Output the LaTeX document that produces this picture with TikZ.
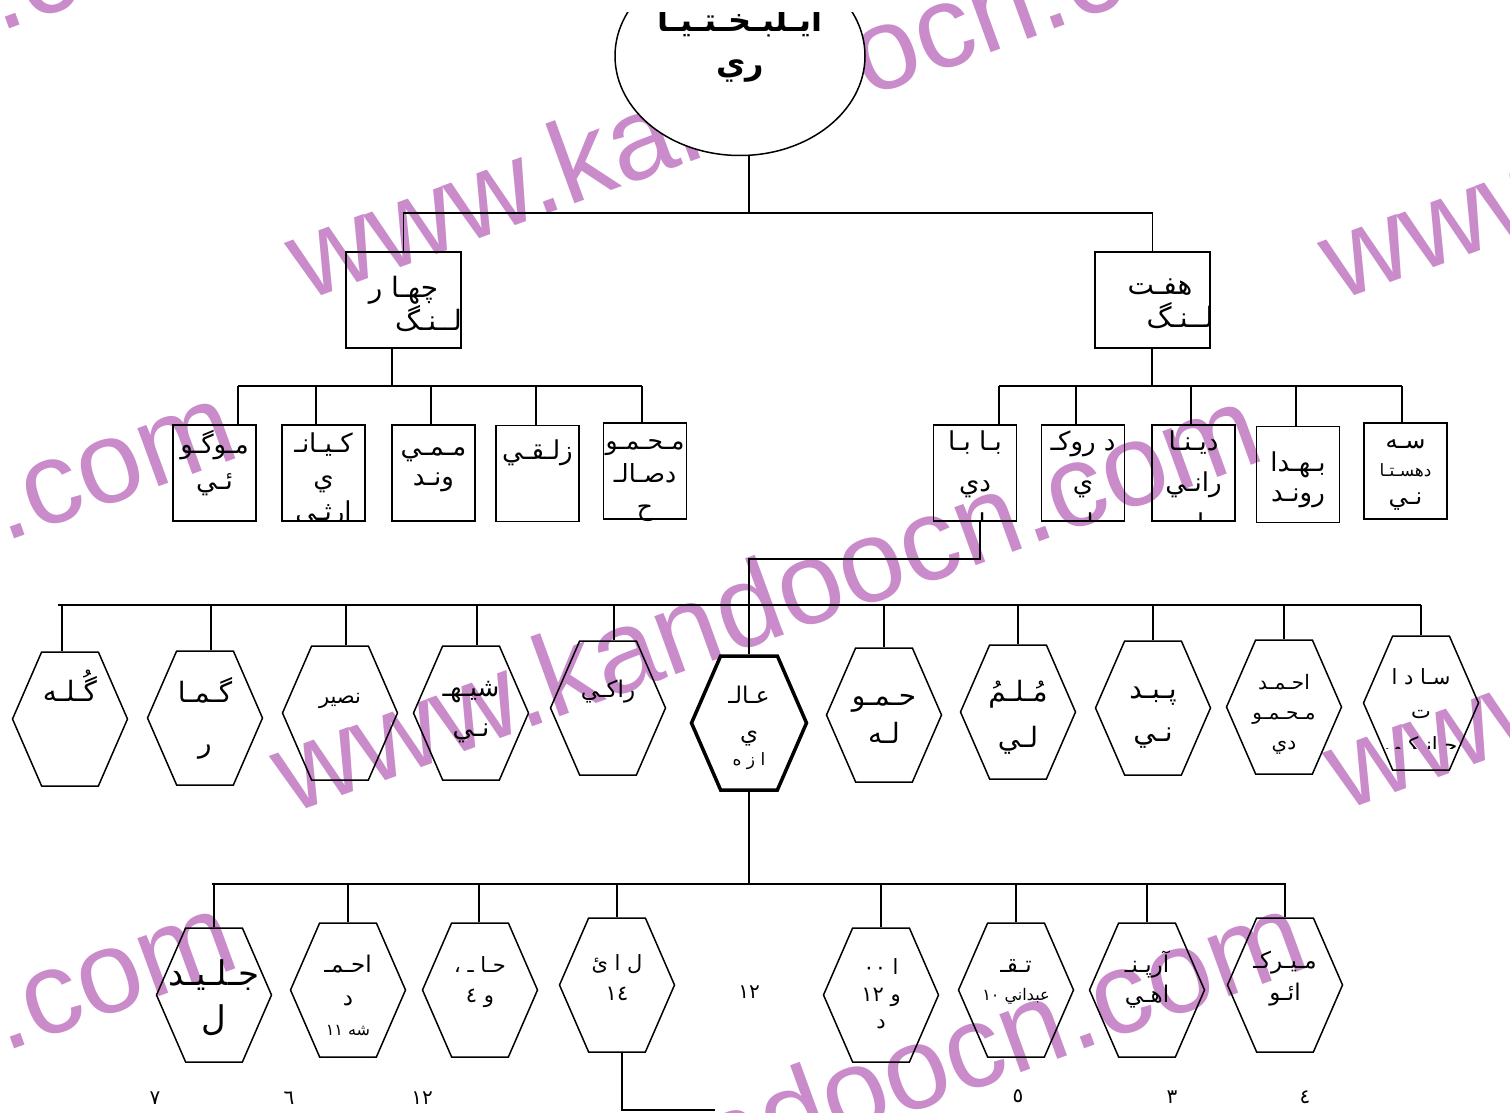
\documentclass[tikz,border=0pt]{standalone}
\usepackage{fontspec}
\usepackage{tikz}
\usetikzlibrary{shapes.geometric, shapes.symbols}

\newfontfamily\arabicfont[Script=Arabic]{DejaVu Sans}
\newfontfamily\wmfont{Liberation Sans}
\TeXXeTstate=1
\definecolor{filigrane}{RGB}{201,139,201}
\newcommand\txtfa[1]{\makebox[0pt]{\arabicfont\beginR#1\endR}}
\newcommand\numfa[1]{{\arabicfont #1}}

\begin{document}
\begin{tikzpicture}[
  x=1pt, y=-1pt,
  trait/.style={draw=black, line width=1.5pt},
  bas/.style={text height=#1, text depth=0pt},
  haut/.style={text height=0pt, text depth=#1},
  racine/.style={
    ellipse, draw=black, line width=1.5pt, fill=white,
    minimum width=250pt, minimum height=199pt, inner sep=0pt
  },
  titre/.style={align=center, inner sep=0pt, font=\fontsize{32}{43}\selectfont\bfseries},
  boite/.style={
    rectangle, draw=black, line width=1.5pt, inner sep=0pt,
    minimum width=83pt, minimum height=96pt,
    align=center, font=\fontsize{26}{36}\selectfont
  },
  grandeboite/.style={boite, minimum width=115pt, font=\fontsize{28}{30}\selectfont},
  texte/.style={align=center, inner sep=0pt, font=\fontsize{26}{41}\selectfont},
  hexa/.style={
    signal, signal to=east and west, signal pointer angle=133,
    draw=black, line width=1.5pt, inner sep=0pt,
    minimum width=115pt, minimum height=134pt,
    align=center, font=\fontsize{28}{47}\selectfont
  },
  hexagras/.style={hexa, line width=3.5pt},
  chiffre/.style={inner sep=0pt, font=\fontsize{20}{24}\selectfont},
  marque/.style={
    text=filigrane, anchor=base west, rotate=20, inner sep=0pt,
    font=\wmfont\fontsize{117}{120}\selectfont
  }
]
\useasboundingbox (0,0) rectangle (1510,1113);

% ----- filigrane -----
\begin{scope}
  \clip (0,0) rectangle (1510,1113);
  \foreach \px/\py [count=\i] in {305/302, 1338/302, -740/302, 290/815, 1343/812, -735/812, 335/1322, -735/1322}
    \node[marque] (marque\i) at (\px,\py) {www.kandoocn.com};
\end{scope}

% ----- 1. Ilé Bakhtiari -----
\begin{scope}
  \clip (0,13) rectangle (1510,1113);
  \node[racine] (racine) at (740,56) {};
  \node[titre, bas=38pt] (titre) at (740,56) {\txtfa{ايـلبـخـتـيـا}\\\txtfa{ري}};
\end{scope}
\coordinate (nb1) at (749,213);
\draw[trait] (nb1 |- racine.south) -- (nb1);

% ----- 2. Chahar lang / Haft lang -----
\node[grandeboite, bas=60pt] (chahar) at (403.5,300)
  {\txtfa{چهـا ر}\\\hspace*{50pt}\txtfa{لــنـگ}};
\node[grandeboite, bas=54pt, font=\fontsize{28}{33}\selectfont] (haft) at (1152.5,300)
  {\hspace*{15pt}\txtfa{هفـت}\\\hspace*{55pt}\txtfa{لــنـگ}};
\draw[trait] (chahar.north) |- (nb1) -| (haft.north);

% ----- 3. Tayefeha -----
\node[boite, bas=32pt] (mogoi) at (214.5,473) {\txtfa{مـوگـو}\\\txtfa{ئـي}};
\node[boite] (kiani) at (323.5,473) {};
\node[boite, bas=24pt, font=\fontsize{26}{30}\selectfont] (mamivand) at (433.5,473)
  {\txtfa{مـمـي}\\\txtfa{ونـد}};
\node[boite, haut=28pt] (zalaghi) at (537.5,473.5) {\txtfa{زلـقـي}};
\node[boite, bas=88pt, font=\fontsize{25}{33}\selectfont] (mahmud) at (645,471)
  {\txtfa{مـحـمـو}\\\txtfa{دصـالـ}\\\txtfa{ح}};

\node[boite] (babadi)   at (975,473) {};
\node[boite] (dorooki)  at (1083,473) {};
\node[boite] (dinarani) at (1193.5,473) {};
\node[boite, bas=53pt, font=\fontsize{26}{30}\selectfont] (bahdarvand) at (1298,474.5)
  {\txtfa{بـهـدا}\\\txtfa{رونـد}};
\node[boite, bas=66pt, font=\fontsize{24}{28}\selectfont] (sedastani) at (1405.5,471)
  {\txtfa{سـه}\\{\fontsize{17}{20}\selectfont\txtfa{دهسـتـا}}\\\txtfa{نـي}};

\begin{scope}
  \clip (kiani.south west) rectangle (kiani.north east);
  \node[texte, bas=94pt, font=\fontsize{26}{34}\selectfont] (kianitxt) at (323.5,473)
    {\txtfa{كـيـانـ}\\\txtfa{ي}\\\txtfa{ارثـي}};
\end{scope}
\begin{scope}
  \clip (babadi.south west) rectangle (babadi.north east);
  \node[texte, bas=118pt] (babaditxt) at (975,473) {\txtfa{بـا بـا}\\\txtfa{دي}\\\txtfa{بـلـي}};
\end{scope}
\begin{scope}
  \clip (dorooki.south west) rectangle (dorooki.north east);
  \node[texte, bas=118pt] (doorokitxt) at (1083,473) {\txtfa{د روكـ}\\\txtfa{ي}\\\txtfa{بـلـي}};
\end{scope}
\begin{scope}
  \clip (dinarani.south west) rectangle (dinarani.north east);
  \node[texte, bas=118pt] (dinaranitxt) at (1193.5,473) {\txtfa{ديـنـا}\\\txtfa{رانـي}\\\txtfa{بـلـي}};
\end{scope}

\coordinate (ng) at (392,386);
\coordinate (nd) at (1152,386);
\draw[trait] (ng |- chahar.south) -- (ng);
\draw[trait] (nd |- haft.south) -- (nd);
\draw[trait] (238,386) -- (642,386);
\draw[trait] (999,386) -- (1402,386);
\foreach \x/\n in {238/mogoi, 316/kiani, 431/mamivand, 536/zalaghi, 642/mahmud,
                   999/babadi, 1076/dorooki, 1191/dinarani, 1296/bahdarvand, 1402/sedastani}
  \draw[trait] (\x,386) -- (\x,386 |- \n.north);

% ----- 4. Tirehaye Babadi -----
\node[hexa, haut=36pt] (gole) at (70,719) {\txtfa{گُـلـه}};
\node[hexa, bas=68pt, font=\fontsize{28}{50}\selectfont] (gamar) at (205,718) {\txtfa{گـمـا}\\\txtfa{ر}};
\node[hexa, haut=20pt, font=\fontsize{21}{34}\selectfont] (nasir) at (340,713) {\txtfa{نصير}};
\node[hexa, bas=46pt, font=\fontsize{26}{40}\selectfont] (shihani) at (471,713)
  {\txtfa{شيـهـ}\\\txtfa{نـي}};
\node[hexa, haut=22pt, font=\fontsize{23}{36}\selectfont] (raki) at (608,708) {\txtfa{راكـي}};
\node[hexagras, bas=84pt, font=\fontsize{23}{37}\selectfont] (ali) at (749,723)
  {\txtfa{عـالـ}\\\txtfa{ي}\\[-12pt]{\fontsize{17}{20}\selectfont\txtfa{ا ز ه}}};
\node[hexa, bas=56pt, font=\fontsize{28}{38}\selectfont] (hamule) at (884,715)
  {\txtfa{حـمـو}\\\txtfa{لـه}};
\node[hexa, bas=70pt, font=\fontsize{28}{46}\selectfont] (mulmuli) at (1018,712)
  {\txtfa{مُـلـمُ}\\\txtfa{لـي}};
\node[hexa, bas=66pt, font=\fontsize{28}{43}\selectfont] (pabdani) at (1153,708)
  {\txtfa{پـبـد}\\\txtfa{نـي}};
\node[hexa, bas=84pt, font=\fontsize{20}{30}\selectfont] (ahmadmahmudi) at (1284,707)
  {\txtfa{احـمـد}\\\txtfa{مـحـمـو}\\\txtfa{دي}};
\node[hexa] (sadat) at (1421,703) {};
\begin{scope}
  \clip (1360,600) rectangle (1485,748);
  \node[texte, bas=98pt, font=\fontsize{21}{34}\selectfont] (sadattxt) at (1421,703)
    {\txtfa{سـا د ا}\\\txtfa{ت}\\\txtfa{جـانـكـي}};
\end{scope}

\coordinate (coude) at (749,559);
\draw[trait] (980,0 |- babadi.south) |- (coude) -- (ali.north);
\draw[trait] (58,605) -- (1421,605);
\foreach \x/\n in {62/gole, 211/gamar, 346/nasir, 477/shihani, 614/raki,
                   884/hamule, 1018/mulmuli, 1153/pabdani, 1284/ahmadmahmudi, 1421/sadat}
  \draw[trait] (\x,605) -- (\x,605 |- \n.north);

% ----- 5. Tirehaye Ali -----
\node[hexa, bas=70pt, font=\fontsize{34}{45}\selectfont] (jalil) at (214,995)
  {\txtfa{جـلـيـد}\\\txtfa{ل}};
\node[hexa, bas=90pt, font=\fontsize{23}{33}\selectfont] (ahmadshahi) at (348,990)
  {\txtfa{احـمـ}\\\txtfa{د}\\[-3pt]{\fontsize{16}{18}\selectfont\txtfa{شه \beginL١١\endL}}};
\node[hexa, bas=24pt, font=\fontsize{21}{30}\selectfont] (hajivand) at (480,990)
  {\txtfa{حـا ـ ،}\\\txtfa{و \beginL٤\endL}};
\node[hexa, bas=30pt, font=\fontsize{21}{30}\selectfont] (lai) at (617,985)
  {\txtfa{ل ا ئ}\\\numfa{١٤}};
\node[chiffre] (douze) at (749,992) {\numfa{١٢}};
\node[hexa, bas=66pt, font=\fontsize{21}{27}\selectfont] (oraz) at (881,995)
  {\txtfa{ا \beginL٠٠\endL}\\\txtfa{و \beginL١٢\endL}\\\txtfa{د}};
\node[hexa, bas=20pt, font=\fontsize{23}{28}\selectfont] (taghi) at (1016,990)
  {\txtfa{تـقـ}\\{\fontsize{16}{18}\selectfont\txtfa{عبداني \beginL١٠\endL}}};
\node[hexa, bas=24pt, font=\fontsize{23}{30}\selectfont] (arpanahi) at (1147,990)
  {\txtfa{آرپـنـ}\\\txtfa{اهـي}};
\node[hexa, bas=30pt, font=\fontsize{23}{32}\selectfont] (mirkaew) at (1285,985)
  {\txtfa{مـيـركـ}\\\txtfa{ائـو}};

\draw[trait] (ali.south) -- (ali.south |- 0,884);
\draw[trait] (212,884) -- (1286,884);
\foreach \x/\n in {214/jalil, 348/ahmadshahi, 479/hajivand, 617/lai,
                   881/oraz, 1016/taghi, 1147/arpanahi, 1285/mirkaew}
  \draw[trait] (\x,884) -- (\x,884 |- \n.north);

\coordinate (fin) at (715,1110);
\draw[trait] (622,0 |- lai.south) |- (fin);

% ----- nombres -----
\node[chiffre] (n7)  at (155,1098)  {\numfa{٧}};
\node[chiffre] (n6)  at (289,1098)  {\numfa{٦}};
\node[chiffre] (n12) at (422,1098)  {\numfa{١٢}};
\node[chiffre] (n5)  at (1018,1096) {\numfa{٥}};
\node[chiffre] (n3)  at (1172,1097) {\numfa{٣}};
\node[chiffre] (n4)  at (1305,1097) {\numfa{٤}};

\end{tikzpicture}
\end{document}
